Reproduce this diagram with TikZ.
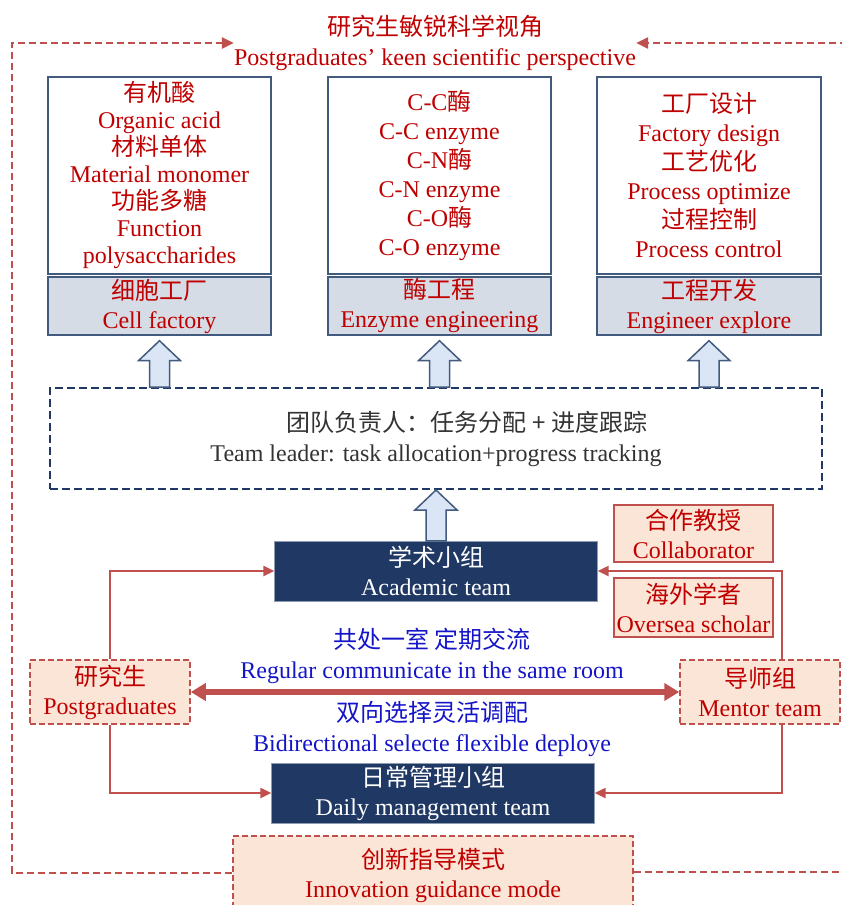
\documentclass[tikz,border=0pt]{standalone}
\usepackage{fontspec}
\setmainfont{Liberation Serif}
\newfontfamily\zhfont{Noto Sans CJK SC}
\newcommand\zh[1]{{\zhfont #1}}
\usetikzlibrary{arrows.meta,calc}

\definecolor{boxline}{RGB}{65,90,125}
\definecolor{boxgray}{RGB}{214,220,229}
\definecolor{navy}{RGB}{31,56,100}
\definecolor{peach}{RGB}{251,229,214}
\definecolor{redline}{RGB}{192,80,77}
\definecolor{redtext}{RGB}{192,0,0}
\definecolor{bluetext}{RGB}{20,20,200}
\definecolor{arrowfill}{RGB}{218,230,245}

% hollow block arrow: #1 = foot, #2 = tip (same x)
\newcommand\fatarrow[2]{%
  \draw[fatarrow] ($(#1)+(-10,0)$) -- ($(#2)+(-10,20)$) -- ($(#2)+(-21,20)$) -- (#2)
    -- ($(#2)+(21,20)$) -- ($(#2)+(10,20)$) -- ($(#1)+(10,0)$) -- cycle;}

\begin{document}
\begin{tikzpicture}[x=1pt, y=-1pt,
  every node/.style={font=\fontsize{24}{29}\selectfont, align=center, inner sep=0pt},
  topbox/.style={draw=boxline, line width=1.4pt, fill=white, minimum width=223pt, minimum height=197pt, text=redtext},
  basebox/.style={draw=boxline, line width=1.4pt, fill=boxgray, minimum width=223pt, minimum height=58pt, text=redtext},
  teambox/.style={fill=navy, draw=boxline!60, minimum width=323pt, minimum height=60pt, text=white},
  guestbox/.style={draw=redline, line width=1.5pt, fill=peach, minimum width=159pt, text=redtext},
  rolebox/.style={draw=redline, dash pattern=on 6pt off 3pt, line width=1.5pt, fill=peach, minimum width=160pt, minimum height=64pt, text=redtext},
  link/.style={draw=redline, line width=2.3pt, -{Triangle[length=11pt,width=10pt]}},
  cycleline/.style={draw=redline, line width=2.3pt, dash pattern=on 7pt off 4pt, -{Triangle[length=12pt,width=11pt]}},
  fatarrow/.style={draw=boxline, fill=arrowfill, line width=1.5pt}]
\useasboundingbox (0,0) rectangle (841,905);

\node[text=redtext, font=\fontsize{24}{30}\selectfont] (title) at (435,43) {\zh{研究生敏锐科学视角}\\Postgraduates' keen scientific perspective};

% three research directions
\node[topbox, font=\fontsize{24}{27}\selectfont] (cell) at (159.5,175.5) {\zh{有机酸}\\Organic acid\\\zh{材料单体}\\Material monomer\\\zh{功能多糖}\\Function\\polysaccharides};
\node[basebox] (cellbase) at (159.5,306) {\zh{细胞工厂}\\Cell factory};
\node[topbox, font=\fontsize{24}{29}\selectfont] (enz) at (439.5,175.5) {C-C\zh{酶}\\C-C enzyme\\C-N\zh{酶}\\C-N enzyme\\C-O\zh{酶}\\C-O enzyme};
\node[basebox] (enzbase) at (439.5,306) {\zh{酶工程}\\Enzyme engineering};
\node[topbox, minimum width=224pt, font=\fontsize{24}{29}\selectfont] (eng) at (709,175.5) {\zh{工厂设计}\\Factory design\\\zh{工艺优化}\\Process optimize\\\zh{过程控制}\\Process control};
\node[basebox, minimum width=224pt] (engbase) at (709,306) {\zh{工程开发}\\Engineer explore};

\node[draw=navy, line width=2pt, dash pattern=on 8pt off 4pt, minimum width=772pt, minimum height=101pt, text=black!80, font=\fontsize{24}{30}\selectfont] (lead) at (436,438.5) {\hspace*{62pt}\zh{团队负责人：任务分配 + 进度跟踪}\\Team leader: task allocation+progress tracking};

% teams and members
\node[teambox] (acad) at (436,571) {\zh{学术小组}\\Academic team};
\node[guestbox, minimum height=57pt] (collab) at (693.5,533.5) {\zh{合作教授}\\Collaborator};
\node[guestbox, minimum height=59pt] (oversea) at (693.5,607.5) {\zh{海外学者}\\Oversea scholar};
\node[rolebox] (pg) at (110,692) {\zh{研究生}\\Postgraduates};
\node[rolebox] (mentor) at (760,692) {\zh{导师组}\\Mentor team};
\node[text=bluetext, font=\fontsize{24}{30}\selectfont] (room) at (432,656) {\zh{共处一室 定期交流}\\Regular communicate in the same room};
\node[text=bluetext, font=\fontsize{24}{30}\selectfont] (deploy) at (432,729) {\zh{双向选择灵活调配}\\Bidirectional selecte flexible deploye};
\node[teambox] (daily) at (433,793) {\zh{日常管理小组}\\Daily management team};
\node[rolebox, minimum width=400pt, minimum height=79pt] (innov) at (433,875.5) {\zh{创新指导模式}\\Innovation guidance mode};

\coordinate (mentorup) at ($(mentor.north)+(22,0)$);
\coordinate (mentordown) at ($(mentor.south)+(22,0)$);
\coordinate (loopl) at (12,873);
\coordinate (loopr) at (843,872);

\draw[link] (pg.north) |- (acad.west);
\draw[link] (mentorup) |- (acad.east);
\draw[link] (pg.south) |- (daily.west);
\draw[link] (mentordown) |- (daily.east);
\draw[redline, line width=5.5pt, {Triangle[length=15pt,width=17pt]}-{Triangle[length=15pt,width=17pt]}] (pg.east) -- (mentor.west);

\foreach \b in {cellbase, enzbase, engbase} {
  \coordinate (\b tip) at ($(\b.south)+(0,5)$);
  \fatarrow{\b.south |- lead.north}{\b tip}
}
\fatarrow{acad.north}{lead.south}

\draw[cycleline] (innov.west |- loopl) -- (loopl) |- (title.west);
\draw[cycleline] (innov.east |- loopr) -- (loopr) |- (title.east);
\end{tikzpicture}
\end{document}
